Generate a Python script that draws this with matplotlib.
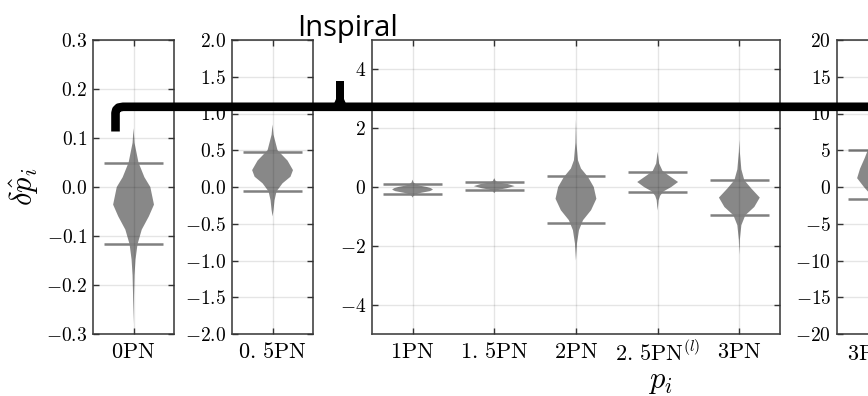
import numpy as np
import matplotlib
matplotlib.use('Agg')
import matplotlib.pyplot as plt
from matplotlib.lines import Line2D
from matplotlib.patches import Polygon

plt.rcParams['mathtext.fontset'] = 'cm'
plt.rcParams['font.family'] = ['DejaVu Serif']

# violin profiles: y values and relative half-widths
pn0_y = [0.12, 0.09, 0.05, 0.02, 0.0, -0.036, -0.06, -0.087, -0.117, -0.148, -0.18, -0.22, -0.28]
pn0_w = [0, 1, 5, 11, 17, 20.7, 15.5, 8.3, 4, 2, 1, 0.5, 0]
pn0_ci = [-0.117, 0.05]

pn05_y = [0.85, 0.71, 0.5, 0.36, 0.23, 0.14, 0.05, -0.06, -0.18, -0.31, -0.4]
pn05_w = [0, 1, 5, 15, 20.5, 18, 10, 4, 2, 1, 0]
pn05_ci = [-0.06, 0.48]

pn1_y = [0.25, 0.15, 0.08, 0.04, 0.0, -0.04, -0.09, -0.14, -0.2, -0.25, -0.3, -0.36]
pn1_w = [0, 1, 4, 8, 14, 18, 20, 17, 8, 3, 1, 0]
pn1_ci = [-0.25, 0.09]

pn15_y = [0.3, 0.2, 0.15, 0.1, 0.03, -0.04, -0.09, -0.14, -0.21]
pn15_w = [0, 1.5, 5, 14, 21, 13, 5, 1.5, 0]
pn15_ci = [-0.11, 0.17]

pn2_y = [2.3, 1.5, 0.91, 0.63, 0.34, 0.0, -0.4, -0.79, -1.13, -1.47, -1.92, -2.5]
pn2_w = [0, 0.5, 2, 5, 12, 17.7, 20.3, 15, 7, 3, 1, 0]
pn2_ci = [-1.23, 0.39]

pn25_y = [1.2, 0.8, 0.55, 0.4, 0.17, 0.0, -0.15, -0.3, -0.45, -0.8]
pn25_w = [0, 1.5, 5, 11, 21, 14, 6, 2.5, 1, 0]
pn25_ci = [-0.17, 0.5]

pn3_y = [1.6, 1.19, 0.6, 0.23, -0.05, -0.36, -0.68, -0.96, -1.3, -1.8, -2.3]
pn3_w = [0, 0.5, 2, 5, 12, 20.5, 15, 6, 2, 0.5, 0]
pn3_ci = [-0.96, 0.23]

pn3l_y = [10, 7, 5.7, 4, 2.5, 1.2, 0, -0.9, -2, -4, -6]
pn3l_w = [0, 3, 8, 13, 18, 21, 14, 8, 3, 0.5, 0]
pn3l_ci = [-1.6, 5.1]

y1_ticks = [-0.3, -0.2, -0.1, 0.0, 0.1, 0.2, 0.3]
y2_ticks = [-2.0, -1.5, -1.0, -0.5, 0.0, 0.5, 1.0, 1.5, 2.0]
y3_ticks = [-4, -2, 0, 2, 4]
y4_ticks = [-20, -15, -10, -5, 0, 5, 10, 15, 20]

x1_labels = [r'$0\mathrm{PN}$']
x2_labels = [r'$0.\,5\mathrm{PN}$']
x3_labels = [r'$1\mathrm{PN}$', r'$1.\,5\mathrm{PN}$', r'$2\mathrm{PN}$',
             r'$2.\,5\mathrm{PN}^{(l)}$', r'$3\mathrm{PN}$']
x4_labels = [r'$3\mathrm{PN}^{(l)}$']

W, H = 868, 396
fig = plt.figure(figsize=(W / 100, H / 100), dpi=100)
bot = 1 - 334 / H
hgt = (334 - 40) / H


def make_stats(y, w, ci):
    i = int(np.argmax(w))
    return dict(coords=y, vals=w, mean=y[i], median=y[i], min=ci[0], max=ci[1])


def panel(left, width, profiles, labels, ylim, yticks, fmt):
    ax = fig.add_axes([left / W, bot, width / W, hgt])
    pos = list(range(1, len(profiles) + 1))
    vp = ax.violin([make_stats(*p) for p in profiles], positions=pos, widths=0.5,
                   showmeans=False, showextrema=False, showmedians=False)
    for b in vp['bodies']:
        b.set_facecolor('#888888')
        b.set_edgecolor('none')
        b.set_alpha(1)
    for p, (y, w, ci) in zip(pos, profiles):
        ax.hlines(ci, p - 0.36, p + 0.36, color='#808080', lw=1.8)
    ax.set_xlim(0.5, len(profiles) + 0.5)
    ax.set_ylim(*ylim)
    ax.set_xticks(pos, labels)
    ax.set_yticks(yticks, [fmt % t for t in yticks])
    ax.grid(True, color='k', alpha=0.1, lw=1.0)
    ax.set_axisbelow(False)
    ax.tick_params(direction='in', top=True, right=True, length=4, width=1,
                   color='#333333')
    ax.tick_params(axis='y', labelsize=14, pad=4)
    ax.tick_params(axis='x', labelsize=16, pad=5)
    for s in ax.spines.values():
        s.set_color('#444444')
        s.set_linewidth(1.2)
    return ax


ax1 = panel(92.7, 81.7, [(pn0_y, pn0_w, pn0_ci)], x1_labels, (-0.3, 0.3), y1_ticks, r'$%.1f$')
ax2 = panel(231.7, 81.7, [(pn05_y, pn05_w, pn05_ci)], x2_labels, (-2, 2), y2_ticks, r'$%.1f$')
ax3 = panel(371.7, 408.5, [(pn1_y, pn1_w, pn1_ci), (pn15_y, pn15_w, pn15_ci),
                           (pn2_y, pn2_w, pn2_ci), (pn25_y, pn25_w, pn25_ci),
                           (pn3_y, pn3_w, pn3_ci)], x3_labels, (-5, 5), y3_ticks, r'$%d$')
ax4 = panel(836.7, 81.7, [(pn3l_y, pn3l_w, pn3l_ci)], x4_labels, (-20, 20), y4_ticks, r'$%d$')

ax1.set_ylabel(r'$\delta\hat{p}_i$', fontsize=22, labelpad=4)
fig.text(660 / W, 1 - 380 / H, r'$p_i$', fontsize=22, ha='center', va='center')

# "Inspiral" brace drawn over the panels
fig.text(297 / W, 1 - 36 / H, 'Inspiral', fontfamily='Open Sans', fontsize=21,
         ha='left', va='baseline')
bx = [115.5, 115.5, 116.3, 118.5, 123, 900]
by = [131.5, 113, 109.8, 107.6, 106.8, 106.8]
fig.add_artist(Line2D([x / W for x in bx], [1 - y / H for y in by], color='k',
                      lw=6.2, solid_capstyle='butt', solid_joinstyle='round', zorder=10))
bump = [(333, 106), (336, 99), (336, 81), (344, 81), (344, 99), (347, 106)]
fig.add_artist(Polygon([(x / W, 1 - y / H) for x, y in bump], closed=True,
                       facecolor='k', edgecolor='none', zorder=10))

fig.savefig('out.png', dpi=100)
